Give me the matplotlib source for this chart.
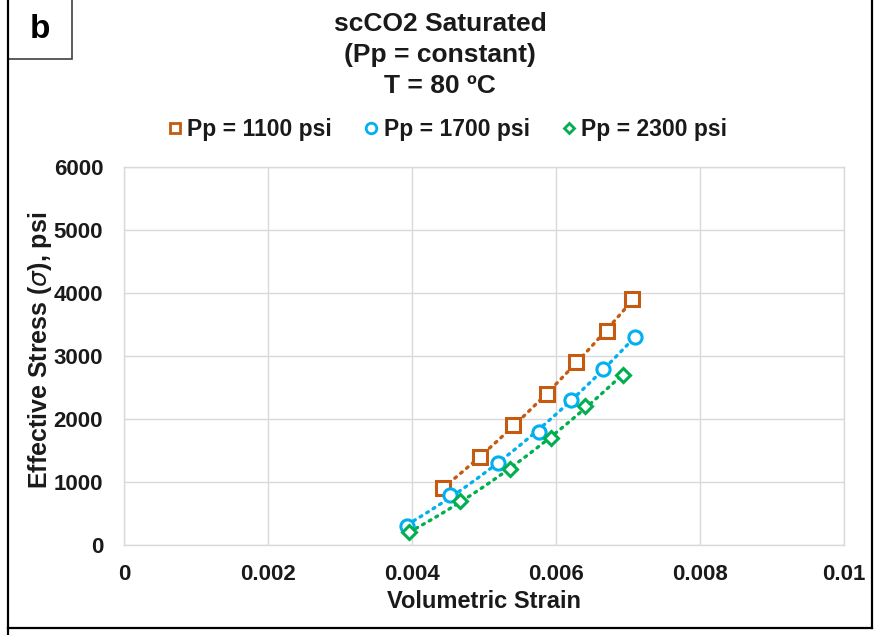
import matplotlib
matplotlib.use("Agg")
import matplotlib.pyplot as plt
import numpy as np
from matplotlib.lines import Line2D
from matplotlib.patches import Rectangle

plt.rcParams['font.family'] = ['Liberation Sans', 'DejaVu Sans']

series_labels = ["Pp = 1100 psi", "Pp = 1700 psi", "Pp = 2300 psi"]
strain_1100 = [0.00443, 0.00494, 0.00540, 0.00588, 0.00628, 0.00671, 0.00706]
stress_1100 = [900, 1400, 1900, 2400, 2900, 3400, 3900]
strain_1700 = [0.00393, 0.00453, 0.00520, 0.00576, 0.00621, 0.00665, 0.00710]
stress_1700 = [300, 800, 1300, 1800, 2300, 2800, 3300]
strain_2300 = [0.00396, 0.00467, 0.00536, 0.00593, 0.00640, 0.00693]
stress_2300 = [200, 700, 1200, 1700, 2200, 2700]
x_ticks = [0, 0.002, 0.004, 0.006, 0.008, 0.01]
x_ticklabels = ["0", "0.002", "0.004", "0.006", "0.008", "0.01"]
y_ticks = [0, 1000, 2000, 3000, 4000, 5000, 6000]
title_lines = ["scCO2 Saturated", "(Pp = constant)", "T = 80 \u00baC"]

colors = ['#C55A11', '#00B0F0', '#00B050']
markers = ['s', 'o', 'D']
msizes = [9.5, 9.5, 7.0]
txt_color = '#1A1A1A'

W, H = 874, 635
fig = plt.figure(figsize=(W / 100, H / 100), dpi=100)
ax = fig.add_axes([124 / W, (H - 545) / H, 720 / W, 378 / H])

data = [(strain_1100, stress_1100), (strain_1700, stress_1700), (strain_2300, stress_2300)]
for (xs, ys), c, m, ms, lab in zip(data, colors, markers, msizes, series_labels):
    xs = np.array(xs); ys = np.array(ys)
    coef = np.polyfit(xs, ys, 2)
    xf = np.linspace(xs.min(), xs.max(), 100)
    ax.plot(xf, np.polyval(coef, xf), linestyle=(0, (0.6, 1.7)), color=c, lw=2.4,
            dash_capstyle='round', zorder=2)
    ax.plot(xs, ys, linestyle='none', marker=m, markersize=ms, markerfacecolor='white',
            markeredgecolor=c, markeredgewidth=2.2, label=lab, zorder=3)

ax.set_xlim(0, 0.01)
ax.set_ylim(0, 6000)
ax.set_xticks(x_ticks)
ax.set_xticklabels(x_ticklabels)
ax.set_yticks(y_ticks)
ax.grid(True, color='#D9D9D9', lw=1)
ax.set_axisbelow(True)
for s in ax.spines.values():
    s.set_color('#D9D9D9')
    s.set_linewidth(1)
ax.tick_params(axis='both', length=0, labelsize=16, labelcolor=txt_color)
ax.tick_params(axis='y', pad=15)
ax.tick_params(axis='x', pad=14)
for t in ax.get_xticklabels() + ax.get_yticklabels():
    t.set_fontweight('bold')

fig.text(484 / W, 1 - 602 / H, "Volumetric Strain", ha='center', va='center',
         fontsize=17, fontweight='bold', color=txt_color)
fig.text(40 / W, 1 - 350 / H, r"Effective Stress ($\mathit{\sigma}$), psi", rotation=90,
         ha='center', va='center', fontsize=18, fontweight='bold', color=txt_color)

for i, line in enumerate(title_lines):
    fig.text(440 / W, 1 - (24 + 31 * i) / H, line, ha='center', va='center',
             fontsize=19, fontweight='bold', color=txt_color)

leg_handles = [Line2D([], [], linestyle='none', marker=m, markersize=ms * 0.8,
                      markerfacecolor='white', markeredgecolor=c, markeredgewidth=2.0)
               for c, m, ms in zip(colors, markers, msizes)]
leg = fig.legend(leg_handles, series_labels, loc='center', bbox_to_anchor=(448 / W, 1 - 130 / H),
                 ncol=3, frameon=False, handlelength=0.5, handletextpad=0.3, columnspacing=1.45,
                 prop={'weight': 'bold', 'size': 16.5})
for t in leg.get_texts():
    t.set_color(txt_color)

# outer frame
fig.add_artist(Line2D([8 / W, 8 / W], [0, 1], transform=fig.transFigure, color='black', lw=1.6))
fig.add_artist(Line2D([8 / W, 872 / W], [1 - 628 / H, 1 - 628 / H], transform=fig.transFigure,
                      color='black', lw=1.6))
fig.add_artist(Line2D([872 / W, 872 / W], [1 - 628 / H, 1], transform=fig.transFigure,
                      color='black', lw=1.6))
fig.add_artist(Rectangle((8 / W, 1 - 59 / H), 64 / W, 60 / H, transform=fig.transFigure,
                         facecolor='white', edgecolor='#404040', lw=1.2))
fig.text(40 / W, 1 - 29 / H, "b", ha='center', va='center', fontsize=24, fontweight='bold',
         color='black')

fig.savefig("out.png", dpi=100)
